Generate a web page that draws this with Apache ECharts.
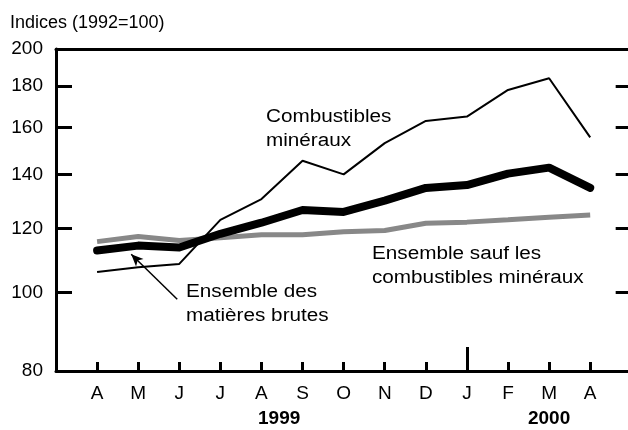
<!DOCTYPE html>
<html>
<head>
<meta charset="utf-8">
<script src="https://cdn.jsdelivr.net/npm/echarts@6/dist/echarts.min.js"></script>
<style>
  html, body { margin: 0; padding: 0; background: #fff; }
  #chart { width: 628px; height: 430px; }
</style>
</head>
<body>
<div id="chart"></div>
<script>
// données
const months = ['A', 'M', 'J', 'J', 'A', 'S', 'O', 'N', 'D', 'J', 'F', 'M', 'A'];
const combustibles = [106, 107.5, 108.5, 123, 130.5, 145.5, 140, 153, 163, 165, 178, 184, 155.5];
const matieresBrutes = [112.7, 114.3, 113.7, 118.2, 122, 126.5, 125.8, 129.9, 134.7, 135.8, 140.3, 142.7, 134.7];
const saufCombustibles = [115.6, 117.3, 116, 116.9, 117.9, 117.9, 118.9, 119.3, 121.8, 122.2, 123, 123.9, 124.7];
const yLabels = [80, 100, 120, 140, 160, 180, 200];
const yTicks = [100, 120, 140, 160, 180];
const years = ['1999', '2000'];
const yearPos = [5.43, 12];

const FONT = 'Liberation Sans, Arial, sans-serif';
const X_MAX = 13.92;
const log = (v) => Math.log10(v);
const toPoints = (arr) => arr.map((v, i) => [i + 1, log(v)]);

const chart = echarts.init(document.getElementById('chart'));

// étiquettes des courbes (texte un peu étiré comme l'original)
const note = (text, left, top) => ({
  type: 'text', left: left, top: top, scaleX: 1.15,
  style: { text: text, font: '18px ' + FONT, fill: '#000', lineHeight: 24 }
});

const option = {
  animation: false,
  grid: {
    left: 56,
    right: 0,
    top: 49,
    bottom: 59,
    containLabel: false,
    outerBoundsMode: 'none'
  },
  xAxis: [
    {
      type: 'value',
      min: 0,
      max: X_MAX,
      position: 'bottom',
      splitLine: { show: false },
      axisLine: { show: true, onZero: false, lineStyle: { color: '#000', width: 3 } },
      axisTick: {
        show: true,
        inside: true,
        length: 9,
        customValues: months.map((m, i) => i + 1),
        lineStyle: { color: '#000', width: 3 }
      },
      axisLabel: {
        customValues: months.map((m, i) => i + 1),
        formatter: (v) => months[Math.round(v) - 1] || '',
        color: '#000',
        fontFamily: FONT,
        fontSize: 19,
        margin: 13
      }
    },
    {
      // années + grand repère de janvier
      type: 'value',
      min: 0,
      max: X_MAX,
      position: 'bottom',
      splitLine: { show: false },
      axisLine: { show: false, onZero: false },
      axisTick: {
        show: true,
        inside: true,
        length: 24,
        customValues: [10],
        lineStyle: { color: '#000', width: 3 }
      },
      axisLabel: {
        customValues: yearPos,
        formatter: (v) => years[yearPos.indexOf(v)] || '',
        color: '#000',
        fontFamily: FONT,
        fontSize: 19,
        fontWeight: 'bold',
        margin: 38
      }
    },
    {
      type: 'value',
      min: 0,
      max: X_MAX,
      position: 'top',
      splitLine: { show: false },
      axisLine: { show: true, onZero: false, lineStyle: { color: '#000', width: 3 } },
      axisTick: { show: false },
      axisLabel: { show: false }
    }
  ],
  yAxis: {
    type: 'value',
    position: 'left',
    min: log(80),
    max: log(200),
    splitLine: { show: false },
    axisLine: { show: true, onZero: false, lineStyle: { color: '#000', width: 3 } },
    axisTick: {
      show: true,
      inside: true,
      length: 16,
      customValues: yTicks.map(log),
      lineStyle: { color: '#000', width: 3 }
    },
    axisLabel: {
      customValues: yLabels.map(log),
      formatter: (v) => String(Math.round(Math.pow(10, v))),
      color: '#000',
      fontFamily: FONT,
      fontSize: 19,
      margin: 13
    }
  },
  graphic: [
    {
      type: 'text', left: 10, top: 11,
      style: { text: 'Indices (1992=100)', font: '18px ' + FONT, fill: '#000', lineHeight: 24 }
    },
    note('Combustibles\nminéraux', 266, 105),
    note('Ensemble sauf les\ncombustibles minéraux', 372, 242),
    note('Ensemble des\nmatières brutes', 186, 280)
  ],
  series: [
    {
      name: 'Ensemble sauf les combustibles minéraux',
      type: 'line',
      data: toPoints(saufCombustibles),
      showSymbol: false,
      lineStyle: { color: '#888', width: 5 },
      // repères du bord droit
      markLine: {
        silent: true,
        symbol: ['none', 'none'],
        label: { show: false },
        lineStyle: { color: '#000', width: 3, type: 'solid' },
        data: yTicks.map((v) => [{ coord: [X_MAX - 0.3, log(v)] }, { coord: [X_MAX, log(v)] }])
      }
    },
    {
      name: 'Ensemble des matières brutes',
      type: 'line',
      data: toPoints(matieresBrutes),
      showSymbol: false,
      lineStyle: { color: '#000', width: 8, cap: 'round', join: 'round' },
      markLine: {
        silent: true,
        symbol: ['none', 'arrow'],
        symbolSize: [8, 12],
        label: { show: false },
        lineStyle: { color: '#000', width: 1.5, type: 'solid' },
        data: [[{ coord: [2.95, log(98.1)] }, { coord: [1.83, log(111.5)] }]]
      }
    },
    {
      name: 'Combustibles minéraux',
      type: 'line',
      data: toPoints(combustibles),
      showSymbol: false,
      lineStyle: { color: '#000', width: 2 }
    }
  ]
};

chart.setOption(option);
</script>
</body>
</html>
